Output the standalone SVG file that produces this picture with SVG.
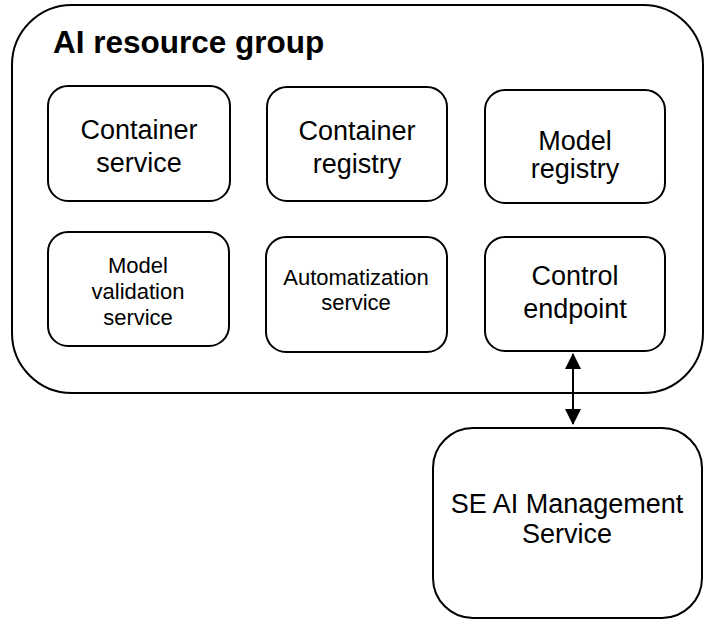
<svg xmlns="http://www.w3.org/2000/svg" width="704" height="622" viewBox="0 0 704 622">
  <defs>
    <style>
      .box { fill: #ffffff; stroke: #000000; stroke-width: 2; }
      .lbl { font-family: "Liberation Sans", Arial, sans-serif; fill: #000000; text-anchor: middle; }
      .big { font-size: 27px; }
      .small { font-size: 22px; }
      .title { font-family: "Liberation Sans", Arial, sans-serif; font-size: 31.5px; font-weight: bold; fill: #000000; }
      .wire { stroke: #000000; stroke-width: 2; fill: none; }
    </style>
    <marker id="head" viewBox="0 0 16 16" refX="15" refY="8" markerWidth="16" markerHeight="16" markerUnits="userSpaceOnUse" orient="auto-start-reverse">
      <path d="M0,0 L16,8 L0,16 Z" fill="#000000"/>
    </marker>
  </defs>

  <!-- resource group container -->
  <g id="ai-resource-group">
    <rect class="box" x="12" y="5" width="691" height="388" rx="60" ry="60"/>
    <text class="title" x="53" y="53">AI resource group</text>
  </g>

  <g id="container-service">
    <rect class="box" x="48" y="86" width="182" height="115" rx="20" ry="20"/>
    <text class="lbl big" x="139" y="139">Container</text>
    <text class="lbl big" x="139" y="172">service</text>
  </g>

  <g id="container-registry">
    <rect class="box" x="267" y="87" width="180" height="114" rx="20" ry="20"/>
    <text class="lbl big" x="357" y="140">Container</text>
    <text class="lbl big" x="357" y="173">registry</text>
  </g>

  <g id="model-registry">
    <rect class="box" x="485" y="90" width="180" height="113" rx="20" ry="20"/>
    <text class="lbl big" x="575" y="150">Model</text>
    <text class="lbl big" x="575" y="178">registry</text>
  </g>

  <g id="model-validation-service">
    <rect class="box" x="48" y="232" width="181" height="114" rx="20" ry="20"/>
    <text class="lbl small" x="138" y="273">Model</text>
    <text class="lbl small" x="138" y="299">validation</text>
    <text class="lbl small" x="138" y="325">service</text>
  </g>

  <g id="automatization-service">
    <rect class="box" x="266" y="237" width="181" height="115" rx="20" ry="20"/>
    <text class="lbl small" x="356" y="285">Automatization</text>
    <text class="lbl small" x="356" y="310">service</text>
  </g>

  <g id="control-endpoint">
    <rect class="box" x="485" y="237" width="180" height="114" rx="20" ry="20"/>
    <text class="lbl big" x="575" y="285">Control</text>
    <text class="lbl big" x="575" y="318">endpoint</text>
  </g>

  <g id="se-ai-management-service">
    <rect class="box" x="433" y="428" width="269" height="190" rx="40" ry="40"/>
    <text class="lbl" font-size="27" x="567" y="513">SE AI Management</text>
    <text class="lbl" font-size="27" x="567" y="543">Service</text>
  </g>

  <!-- connectors -->
  <g id="connectors">
    <line class="wire" x1="573" y1="354" x2="573" y2="424" marker-start="url(#head)" marker-end="url(#head)"/>
  </g>
</svg>
